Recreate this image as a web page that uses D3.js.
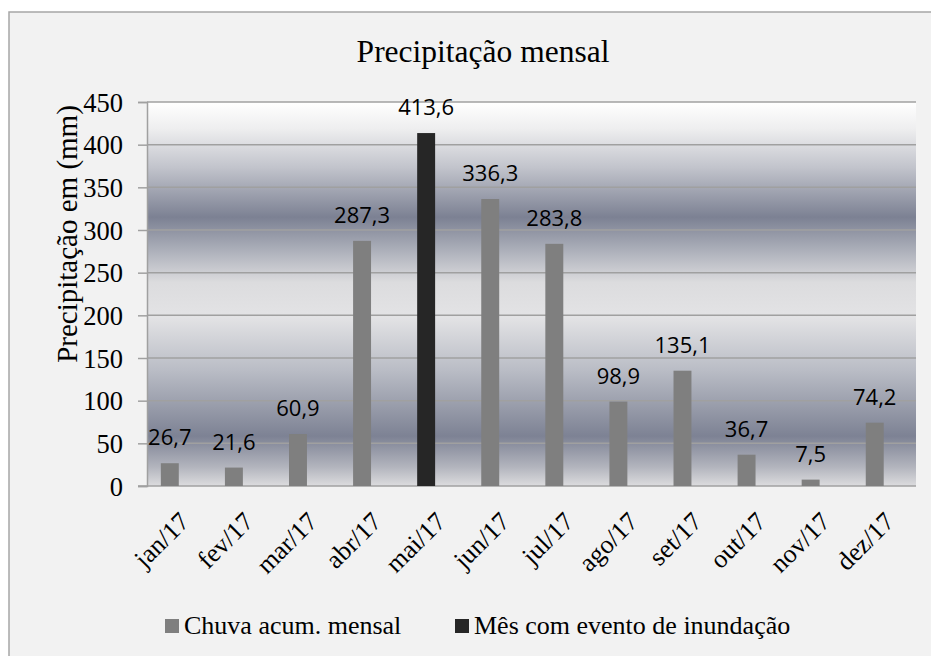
<!DOCTYPE html>
<html>
<head>
<meta charset="utf-8">
<script src="https://cdn.jsdelivr.net/npm/d3@7"></script>
<style>
  html, body { margin: 0; padding: 0; background: #ffffff; }
  svg { display: block; }
</style>
</head>
<body>
<svg id="chart" width="931" height="656"></svg>
<script>
// Monthly rainfall, 2017
const months = ["jan/17", "fev/17", "mar/17", "abr/17", "mai/17", "jun/17",
                "jul/17", "ago/17", "set/17", "out/17", "nov/17", "dez/17"];
const rainfall = [26.7, 21.6, 60.9, 287.3, 413.6, 336.3, 283.8, 98.9, 135.1, 36.7, 7.5, 74.2];
const floodMonths = ["mai/17"];
const yTicks = [0, 50, 100, 150, 200, 250, 300, 350, 400, 450];
const seriesNames = ["Chuva acum. mensal", "Mês com evento de inundação"];
const seriesColors = ["#7f7f7f", "#262626"];

const fmt = v => d3.format(".1f")(v).replace(".", ",");
const SERIF = '"Liberation Serif"';
const SANS = '"Open Sans"';

const svg = d3.select("#chart");

// chart area
svg.append("rect")
  .attr("x", 9).attr("y", 12).attr("width", 940).attr("height", 660)
  .attr("fill", "#f2f2f2").attr("stroke", "#a6a6a6").attr("stroke-width", 1.5);

const plot = { left: 147, right: 916, top: 102, bottom: 486 };

const x = d3.scaleBand().domain(months)
  .range([plot.left, plot.right])
  .paddingInner(0.72).paddingOuter(0.36).align(0.3);
const y = d3.scaleLinear().domain([0, 450]).range([plot.bottom, plot.top]);

// plot-area gradient fill
const defs = svg.append("defs");
const grad = defs.append("linearGradient").attr("id", "plotBg")
  .attr("gradientUnits", "userSpaceOnUse")
  .attr("x1", 0).attr("x2", 0).attr("y1", plot.top).attr("y2", plot.bottom);
[
  [0.00, "#ffffff"],
  [0.07, "#eeeeef"],
  [0.17, "#c2c4cc"],
  [0.30, "#7c8193"],
  [0.40, "#b4b7c0"],
  [0.47, "#dcdcde"],
  [0.56, "#e3e3e5"],
  [0.70, "#b9bcc5"],
  [0.87, "#7d8294"],
  [0.95, "#b2b4bd"],
  [1.00, "#dcdcde"]
].forEach(([o, c]) => grad.append("stop").attr("offset", o).attr("stop-color", c));

svg.append("rect")
  .attr("x", plot.left).attr("y", plot.top)
  .attr("width", plot.right - plot.left).attr("height", plot.bottom - plot.top)
  .attr("fill", "url(#plotBg)");

// gridlines
svg.append("g").selectAll("line").data(yTicks.filter(t => t > 0)).join("line")
  .attr("x1", plot.left).attr("x2", plot.right)
  .attr("y1", d => y(d)).attr("y2", d => y(d))
  .attr("stroke", "#a0a0a0").attr("stroke-width", 1.5);

// y axis
const yAxis = svg.append("g")
  .attr("transform", `translate(${plot.left},0)`)
  .call(d3.axisLeft(y).tickValues(yTicks).tickSize(9).tickPadding(15).tickFormat(d3.format("d")));
yAxis.select(".domain").attr("stroke", "#a0a0a0").attr("stroke-width", 1.5);
yAxis.selectAll(".tick line").attr("stroke", "#a0a0a0").attr("stroke-width", 1.5);
yAxis.selectAll(".tick text")
  .style("font-family", SERIF).style("font-size", "26.5px").attr("fill", "#000")
  .attr("dy", "0.34em");

// x axis line
svg.append("line")
  .attr("x1", plot.left - 9).attr("x2", plot.right)
  .attr("y1", y(0)).attr("y2", y(0))
  .attr("stroke", "#a0a0a0").attr("stroke-width", 1.5);

// bars
const barData = months.map((m, i) => ({ m, v: rainfall[i], flood: floodMonths.includes(m) }));
svg.append("g").selectAll("rect").data(barData).join("rect")
  .attr("x", d => x(d.m))
  .attr("width", x.bandwidth())
  .attr("y", d => y(d.v))
  .attr("height", d => y(0) - y(d.v))
  .attr("fill", d => d.flood ? seriesColors[1] : seriesColors[0]);

// value labels
svg.append("g").selectAll("text").data(barData).join("text")
  .attr("x", d => x(d.m) + x.bandwidth() / 2)
  .attr("y", d => y(d.v) - 18)
  .attr("text-anchor", "middle")
  .style("font-family", SANS).style("font-size", "22px").attr("fill", "#000")
  .text(d => fmt(d.v));

// x category labels (rotated)
svg.append("g").selectAll("text").data(months).join("text")
  .attr("transform", d => `translate(${x(d) + x.bandwidth() / 2 + 21},${plot.bottom + 37}) rotate(-45)`)
  .attr("text-anchor", "end")
  .style("font-family", SERIF).style("font-size", "26px").attr("fill", "#000")
  .text(d => d);

// title
svg.append("text")
  .attr("x", 483).attr("y", 62)
  .attr("text-anchor", "middle")
  .style("font-family", SERIF).style("font-size", "31.5px").attr("fill", "#000")
  .text("Precipitação mensal");

// y axis title
svg.append("text")
  .attr("transform", "translate(77,234) rotate(-90)")
  .attr("text-anchor", "middle")
  .style("font-family", SERIF).style("font-size", "29px").attr("fill", "#000")
  .text("Precipitação em (mm)");

// legend
const legendItems = [
  { name: seriesNames[0], color: seriesColors[0], x: 165 },
  { name: seriesNames[1], color: seriesColors[1], x: 455 }
];
const lg = svg.append("g").selectAll("g").data(legendItems).join("g")
  .attr("transform", d => `translate(${d.x},619)`);
lg.append("rect").attr("width", 14).attr("height", 14).attr("fill", d => d.color);
lg.append("text")
  .attr("x", 19).attr("y", 15)
  .style("font-family", SERIF).style("font-size", "26px").attr("fill", "#000")
  .text(d => d.name);
</script>
</body>
</html>
